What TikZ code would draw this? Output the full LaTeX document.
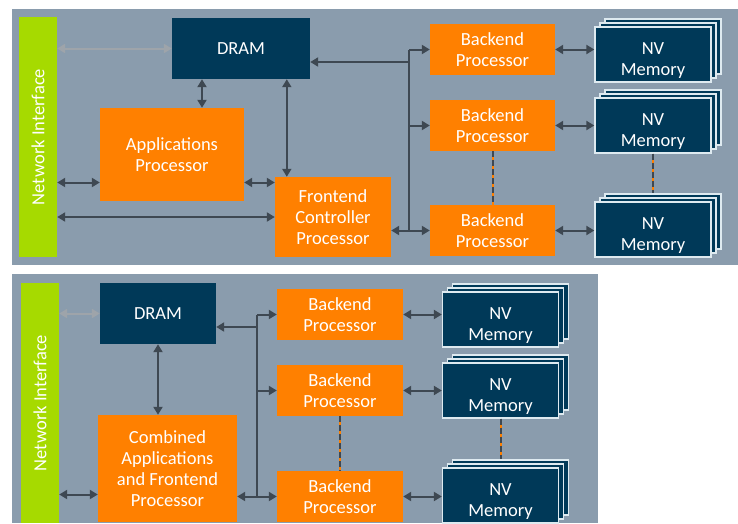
\documentclass[tikz,border=0pt]{standalone}
\usepackage{fontspec}
\setmainfont{Carlito}
\usetikzlibrary{arrows.meta}

\definecolor{panel}{RGB}{138,156,173}
\definecolor{navy}{RGB}{0,57,88}
\definecolor{orng}{RGB}{255,128,0}
\definecolor{lime}{RGB}{166,218,0}
\definecolor{wirec}{RGB}{62,72,82}
\definecolor{faintc}{RGB}{158,164,170}
\definecolor{rim}{RGB}{222,234,240}

\tikzset{
  box/.style={inner sep=0pt, align=center, text=white, font=\fontsize{18.5}{21}\selectfont},
  proc/.style={box, fill=orng},
  backend/.style={proc, minimum width=125pt, minimum height=51pt},
  dram/.style={box, fill=navy},
  mem/.style={box, fill=navy, draw=rim, line width=1.3pt, minimum width=116pt, minimum height=55pt},
  netif/.style={fill=lime, inner sep=0pt, minimum width=38pt, minimum height=240pt},
  nilabel/.style={rotate=90, text=white, font=\fontsize{18.5}{21}\selectfont},
  link/.style={draw=wirec, line width=2pt, {Triangle[length=8pt,width=9pt]}-{Triangle[length=8pt,width=9pt]}},
  tolink/.style={draw=wirec, line width=2pt, -{Triangle[length=8pt,width=9pt]}},
  faint/.style={draw=faintc, line width=2pt, {Triangle[length=8pt,width=9pt]}-{Triangle[length=8pt,width=9pt]}},
  buswire/.style={draw=wirec, line width=2pt},
  dots/.style={draw=orng, line width=2pt, postaction={draw=wirec, line width=2pt, dash pattern=on 6pt off 3pt}}
}

\newcommand\nvstack[2]{%
  \node[mem, xshift=10pt, yshift=8pt] (#1c) at (#2) {};
  \node[mem, xshift=5pt, yshift=4pt] (#1b) at (#2) {};
  \node[mem] (#1) at (#2) {};
  \node[box] (#1t) at ([yshift=-6pt]#1.center) {NV\\Memory};
}

\begin{document}
\begin{tikzpicture}[x=1pt,y=-1pt]
\useasboundingbox (0,0) rectangle (738,523);
\fill[white] (0,0) rectangle (738,523);
\fill[panel] (12,9) rectangle (738,265);
\fill[panel] (12,274) rectangle (598,523);

% upper system
\node[netif] (ni1) at (38,137) {};
\node[nilabel] (ni1t) at (ni1.center) {Network Interface};
\node[dram, minimum width=138pt, minimum height=61pt] (dram1) at (241,48.5) {DRAM};
\node[proc, minimum width=144pt, minimum height=93pt] (app1) at (172,154.5) {Applications\\Processor};
\node[proc, minimum width=116pt, minimum height=80pt] (fe1) at (333,217) {Frontend\\Controller\\Processor};
\node[backend] (be11) at (492.5,49.5) {Backend\\Processor};
\node[backend] (be12) at (492.5,125.5) {Backend\\Processor};
\node[backend] (be13) at (492.5,230.5) {Backend\\Processor};
\nvstack{nv11}{653,54.5}
\nvstack{nv12}{653,125.5}
\nvstack{nv13}{653,229.5}

\coordinate (a1) at ([yshift=-28pt]app1.west);
\coordinate (d1) at ([yshift=-13.5pt]dram1.east);
\coordinate (bus1) at (409,137);

\draw[faint] (ni1.east |- dram1.west) -- (dram1.west);
\draw[link] ([xshift=30pt]app1.north) -- ([xshift=30pt]app1.north |- dram1.south);
\draw[link] ([xshift=12pt]fe1.north west) -- ([xshift=12pt]fe1.north west |- dram1.south);
\draw[link] (ni1.east |- a1) -- (a1);
\draw[link] (app1.east |- a1) -- (fe1.west |- a1);
\draw[link] (ni1.east |- fe1.west) -- (fe1.west);
\draw[buswire] (bus1 |- be11.west) -- (bus1 |- be13.west);
\draw[tolink] (bus1 |- d1) -- (d1);
\draw[tolink] (bus1 |- be13.west) -- (fe1.east |- be13.west);
\foreach \i in {1,2,3} {
  \draw[tolink] (bus1 |- be1\i.west) -- (be1\i.west);
  \draw[link] (be1\i.east) -- (nv1\i.west |- be1\i.east);
}
\draw[dots] (be12.south) -- (be13.north);
\draw[dots] (nv12.south) -- (nv13c.north -| nv12.south);

% lower system
\node[netif] (ni2) at (40,403) {};
\node[nilabel] (ni2t) at (ni2.center) {Network Interface};
\node[dram, minimum width=116pt, minimum height=61pt] (dram2) at (158,313.5) {DRAM};
\node[proc, minimum width=139pt, minimum height=107pt] (comb) at (167.5,468.5) {Combined\\Applications\\and Frontend\\Processor};
\node[backend, minimum width=126pt] (be21) at (340,314.5) {Backend\\Processor};
\node[backend, minimum width=126pt] (be22) at (340,390.5) {Backend\\Processor};
\node[backend, minimum width=126pt] (be23) at (340,496.5) {Backend\\Processor};
\nvstack{nv21}{500.5,319.5}
\nvstack{nv22}{500.5,390.5}
\nvstack{nv23}{500.5,495.5}

\coordinate (a2) at ([yshift=-26pt]comb.west);
\coordinate (d2) at ([yshift=-13.5pt]dram2.east);
\coordinate (bus2) at (257,400);

\draw[faint] (ni2.east |- dram2.west) -- (dram2.west);
\draw[link] (dram2.south) -- (dram2.south |- comb.north);
\draw[link] (ni2.east |- a2) -- (a2);
\draw[buswire] (bus2 |- be21.west) -- (bus2 |- be23.west);
\draw[tolink] (bus2 |- d2) -- (d2);
\draw[tolink] (bus2 |- be23.west) -- (comb.east |- be23.west);
\foreach \i in {1,2,3} {
  \draw[tolink] (bus2 |- be2\i.west) -- (be2\i.west);
  \draw[link] (be2\i.east) -- (nv2\i.west |- be2\i.east);
}
\draw[dots] (be22.south) -- (be23.north);
\draw[dots] (nv22.south) -- (nv23c.north -| nv22.south);
\end{tikzpicture}
\end{document}
